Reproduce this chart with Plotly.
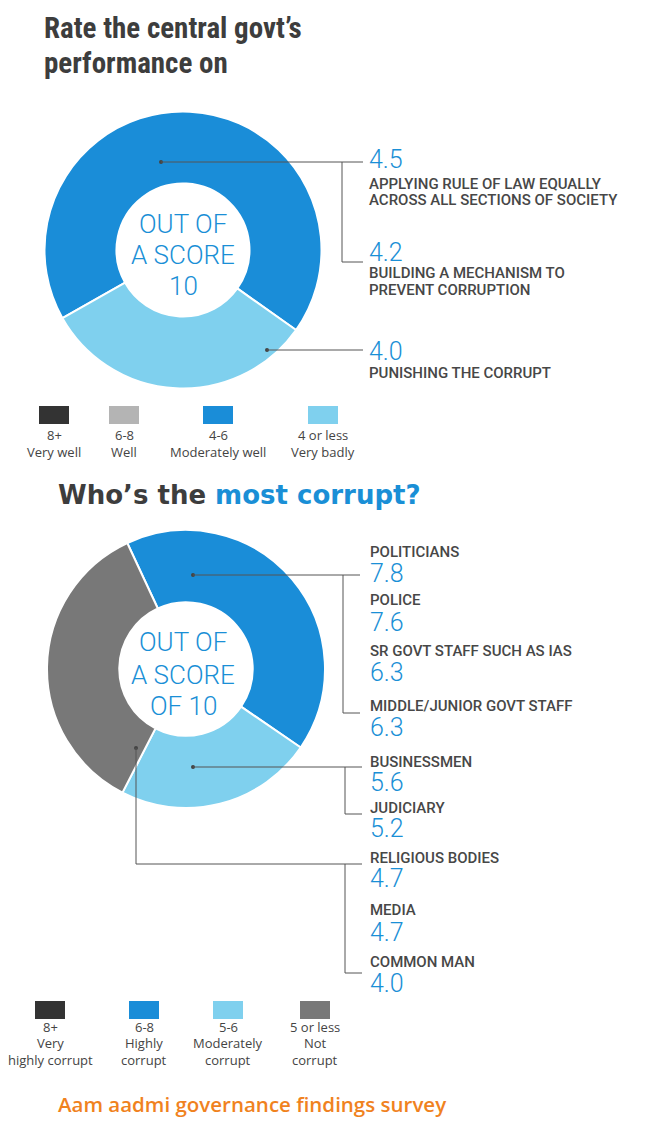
import plotly.graph_objects as go

W, H = 665, 1133

# ---------------- data ----------------
perf_items = ["APPLYING RULE OF LAW EQUALLY\nACROSS ALL SECTIONS OF SOCIETY",
              "BUILDING A MECHANISM TO\nPREVENT CORRUPTION",
              "PUNISHING THE CORRUPT"]
perf_scores = [4.5, 4.2, 4.0]
perf_bands = ["8+", "6-8", "4-6", "4 or less"]
perf_band_desc = ["Very well", "Well", "Moderately well", "Very badly"]
perf_ring_bands = ["4-6", "4 or less"]
perf_ring_share = [68, 32]

corrupt_items = ["POLITICIANS", "POLICE", "SR GOVT STAFF SUCH AS IAS",
                 "MIDDLE/JUNIOR GOVT STAFF", "BUSINESSMEN", "JUDICIARY",
                 "RELIGIOUS BODIES", "MEDIA", "COMMON MAN"]
corrupt_scores = [7.8, 7.6, 6.3, 6.3, 5.6, 5.2, 4.7, 4.7, 4.0]
corrupt_bands = ["8+", "6-8", "5-6", "5 or less"]
corrupt_band_desc = ["Very\nhighly corrupt", "Highly\ncorrupt",
                     "Moderately\ncorrupt", "Not\ncorrupt"]
corrupt_ring_bands = ["6-8", "5-6", "5 or less"]
corrupt_ring_share = [41.5, 23, 35.5]

# ---------------- styles ----------------
perf_colors = {"8+": "#333333", "6-8": "#b4b4b4", "4-6": "#1a8dd8", "4 or less": "#7fd0ee"}
corrupt_colors = {"8+": "#333333", "6-8": "#1a8dd8", "5-6": "#7fd0ee", "5 or less": "#787878"}
BLUE = "#1a8fd6"
DARK = "#3d3d3d"
LABEL = "#474747"
LINE = "#555555"
ORANGE = "#f0821e"
NUM_FONT = dict(family="Roboto", size=25, color=BLUE, weight=300)
LAB_FONT = dict(family="Roboto", size=15, color=LABEL, weight=500)
LEG_FONT = dict(family="Open Sans", size=13, color="#444444")


def X(p):
    return p / W


def Y(p):
    return 1 - p / H


fig = go.Figure()


def donut(cx, cy, r, labels, values, cmap, rotation):
    fig.add_trace(go.Pie(
        labels=labels, values=values,
        marker=dict(colors=[cmap[b] for b in labels], line=dict(color="white", width=2)),
        hole=0.48, sort=False, direction="clockwise", rotation=rotation,
        textinfo="none", hoverinfo="label+percent", showlegend=False,
        domain=dict(x=[X(cx - r), X(cx + r)], y=[Y(cy + r), Y(cy - r)]),
    ))


donut(183, 250, 138.5, perf_ring_bands, perf_ring_share, perf_colors, 240.5)
donut(186, 669, 139, corrupt_ring_bands, corrupt_ring_share, corrupt_colors, 335)

ann = []
shapes = []


def text(x, y, s, font, xanchor="left"):
    ann.append(dict(x=X(x), y=Y(y), xref="paper", yref="paper", text=s, showarrow=False,
                    xanchor=xanchor, yanchor="middle", font=font, borderpad=0))


def line(x0, y0, x1, y1):
    shapes.append(dict(type="line", xref="paper", yref="paper", x0=X(x0), y0=Y(y0),
                       x1=X(x1), y1=Y(y1), line=dict(color=LINE, width=1)))


def dot(x, y):
    shapes.append(dict(type="circle", xref="paper", yref="paper", x0=X(x - 2), x1=X(x + 2),
                       y0=Y(y + 2), y1=Y(y - 2), fillcolor="#444444", line=dict(width=0)))


# ---------------- titles ----------------
TITLE1 = dict(family="Roboto Condensed, Roboto", size=29, color=DARK, weight=700)
text(43, 28, "Rate the central govt’s", TITLE1)
text(43, 63, "performance on", TITLE1)
text(57, 495, "<b>Who’s the </b><b><span style='color:%s'>most corrupt?</span></b>" % BLUE,
     dict(family="DejaVu Sans", size=26, color=DARK))
text(252, 1104, "Aam aadmi governance findings survey",
     dict(family="Open Sans", size=20.5, color=ORANGE, weight=600), xanchor="center")

# ---------------- centre texts ----------------
CENTER = dict(family="Roboto", size=26, color=BLUE, weight=300)
for s, y in zip(["OUT OF", "A SCORE", "10"], [224, 255, 286]):
    text(183, y, s, CENTER, xanchor="center")
for s, y in zip(["OUT OF", "A SCORE", "OF 10"], [642, 675, 706]):
    text(183, y, s, CENTER, xanchor="center")

# ---------------- donut 1 labels ----------------
perf_num_y = [159, 252.5, 351.5]
perf_lab_y = [183.5, 273, 373]
for name, sc, ny, ly in zip(perf_items, perf_scores, perf_num_y, perf_lab_y):
    text(368, ny, f"{sc:.1f}", NUM_FONT)
    for k, part in enumerate(name.split("\n")):
        text(368, ly + k * 16.5, part, LAB_FONT)

dot(161, 162); line(161, 162, 363, 162)
line(342, 162, 342, 262); line(342, 262, 363, 262)
dot(267, 350); line(267, 350, 363, 350)

# ---------------- donut 2 labels ----------------
cor_lab_y = [552, 600, 650.5, 706, 762, 808, 858, 910, 962]
cor_num_y = [573, 622.5, 672.5, 727.5, 782, 828, 878, 932, 983]
for name, sc, ly, ny in zip(corrupt_items, corrupt_scores, cor_lab_y, cor_num_y):
    text(369, ly, name, LAB_FONT)
    text(369, ny, f"{sc:.1f}", NUM_FONT)

dot(193, 575); line(193, 575, 360, 575)
line(343, 575, 343, 713); line(343, 713, 360, 713)
dot(193, 767); line(193, 767, 362, 767)
line(345, 767, 345, 814); line(345, 814, 362, 814)
dot(136, 748); line(136, 748, 136, 864); line(136, 864, 362, 864)
line(345, 864, 345, 973); line(345, 973, 362, 973)

# ---------------- legends ----------------
leg1_x = [54, 124, 218, 323]
for band, desc, cx in zip(perf_bands, perf_band_desc, leg1_x):
    shapes.append(dict(type="rect", xref="paper", yref="paper", x0=X(cx - 15), x1=X(cx + 15),
                       y0=Y(424), y1=Y(406), fillcolor=perf_colors[band], line=dict(width=0)))
    text(cx, 435, band, LEG_FONT, xanchor="center")
    text(cx, 452, desc, LEG_FONT, xanchor="center")

leg2_x = [50, 144, 228, 315]
for band, desc, cx in zip(corrupt_bands, corrupt_band_desc, leg2_x):
    shapes.append(dict(type="rect", xref="paper", yref="paper", x0=X(cx - 15), x1=X(cx + 15),
                       y0=Y(1019), y1=Y(1001), fillcolor=corrupt_colors[band], line=dict(width=0)))
    text(cx, 1027, band, LEG_FONT, xanchor="center")
    for k, part in enumerate(desc.split("\n")):
        text(cx, 1043 + k * 16.5, part, LEG_FONT, xanchor="center")

fig.update_layout(width=W, height=H, margin=dict(l=0, r=0, t=0, b=0),
                  paper_bgcolor="white", plot_bgcolor="white",
                  annotations=ann, shapes=shapes, showlegend=False)
fig.write_html("out.html")
